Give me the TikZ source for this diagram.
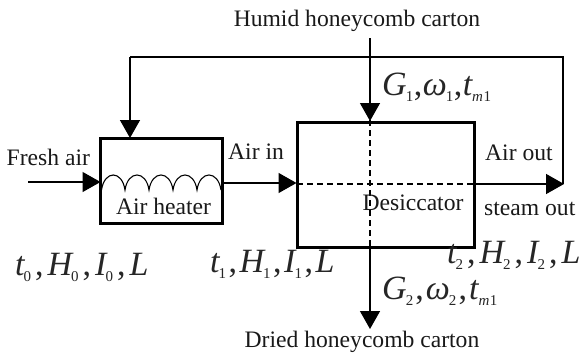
\documentclass[tikz,border=0pt]{standalone}
\usepackage{fontspec}
\setmainfont{Liberation Serif}
\usetikzlibrary{arrows.meta}
\newcommand{\vv}[1]{{\fontsize{34}{34}\selectfont\itshape #1}}
\def\cg{2.5pt}\def\sg{2.5pt}
\newcommand{\cmma}{{\fontsize{34}{34}\selectfont ,}\hspace{\cg}}
\newcommand{\sbs}[1]{\hspace{-1pt}\raisebox{-6.5pt}{\fontsize{15}{15}\selectfont #1}\hspace{\sg}}
\newcommand{\sbm}[1]{\raisebox{-6.5pt}{\fontsize{15}{15}\selectfont\itshape #1}\hspace{0.5pt}}
\newcommand{\sbe}[1]{\raisebox{-6.5pt}{\fontsize{15}{15}\selectfont #1}}
\tikzset{
  box/.style={draw,line width=3pt,inner sep=0pt,outer sep=0pt,anchor=north west},
  lbl/.style={inner sep=0pt,font=\fontsize{23.6}{24}\selectfont,text=black!90},
  eq/.style={inner sep=0pt,anchor=base west,text=black!85},
  flow/.style={line width=1.4pt,-{Triangle[length=18pt,width=20pt]},shorten >=-1pt},
  plain/.style={line width=1.4pt},
  dashline/.style={line width=1.3pt,dash pattern=on 6pt off 4pt},
}
\begin{document}
\begin{tikzpicture}[x=1pt,y=-1pt]
\useasboundingbox (0,0) rectangle (579,356);
\fill[white] (0,0) rectangle (579,356);
\node[box,minimum width=122pt,minimum height=85pt] (heater) at (100,138) {};
\node[box,minimum width=177pt,minimum height=125pt] (desic) at (297,122) {};
% coordinates
\coordinate (fresh) at (28,182);
\coordinate (heaterin) at (99.5,182);
\coordinate (heaterout) at (222,183);
\coordinate (desicin) at (295.5,183);
\coordinate (dashstart) at (297,184);
\coordinate (desicout) at (474,184);
\coordinate (airend) at (563,184);
\coordinate (fbcorner) at (563,57);
\coordinate (fbleft) at (130,57);
\coordinate (heatertop) at (130,137);
\coordinate (humid) at (370,38);
\coordinate (desictop) at (370,120);
\coordinate (desicbot) at (370,247);
\coordinate (dried) at (370,328);
% connectors
\draw[flow] (fresh) -- (heaterin);
\draw[flow] (heaterout) -- (desicin);
\draw[flow] (desicout) -- (airend);
\draw[plain] (airend) -- (fbcorner) -- (fbleft);
\draw[flow] (fbleft) -- (heatertop);
\draw[flow] (humid) -- (desictop);
\draw[flow] (desicbot) -- (dried);
\draw[dashline] (dashstart) -- (desicout);
\draw[dashline] (desictop) -- (desicbot);
% coil
\draw[line width=1.1pt] (101.5,190)
  .. controls (104.5,170) and (122,170) .. (125,190)
  .. controls (128,170) and (146,170) .. (149,190)
  .. controls (152,170) and (170,170) .. (173,190)
  .. controls (176,170) and (194,170) .. (197,190)
  .. controls (200,170) and (218,170) .. (221,190);
% labels
\node[lbl,anchor=base] (t1) at (357,27) {Humid honeycomb carton};
\node[lbl,anchor=base] (t2) at (362,347) {Dried honeycomb carton};
\node[lbl,anchor=base west] (t3) at (6.5,165) {Fresh air};
\node[lbl,anchor=base west] (t4) at (228,159) {Air in};
\node[lbl,anchor=base] (t5) at (163.5,214) {Air heater};
\node[lbl,anchor=base] (t6) at (413,210) {Desiccator};
\node[lbl,anchor=base west] (t7) at (485,160) {Air out};
\node[lbl,anchor=base west] (t8) at (484,215) {steam out};
% equations
\node[eq] (e0) at (15,275) {\def\cg{4pt}\def\sg{4pt}\vv{t}\sbs{0}\cmma\vv{H}\sbs{0}\cmma\vv{I}\sbs{0}\cmma\vv{L}};
\node[eq] (e1) at (210,272) {\vv{t}\sbs{1}\cmma\vv{H}\sbs{1}\cmma\vv{I}\sbs{1}\cmma\vv{L}};
\node[eq] (e2) at (447,263) {\def\cg{4pt}\def\sg{4pt}\vv{t}\sbs{2}\cmma\vv{H}\sbs{2}\cmma\vv{I}\sbs{2}\cmma\vv{L}};
\node[eq] (e3) at (382,95) {\def\cg{0.5pt}\def\sg{0.5pt}\vv{G}\sbs{1}\cmma\vv{ω}\sbs{1}\cmma\vv{t}\sbm{m}\sbe{1}};
\node[eq] (e4) at (382,299) {\def\cg{2pt}\def\sg{2.2pt}\vv{G}\sbs{2}\cmma\vv{ω}\sbs{2}\cmma\vv{t}\sbm{m}\sbe{1}};
\end{tikzpicture}
\end{document}
